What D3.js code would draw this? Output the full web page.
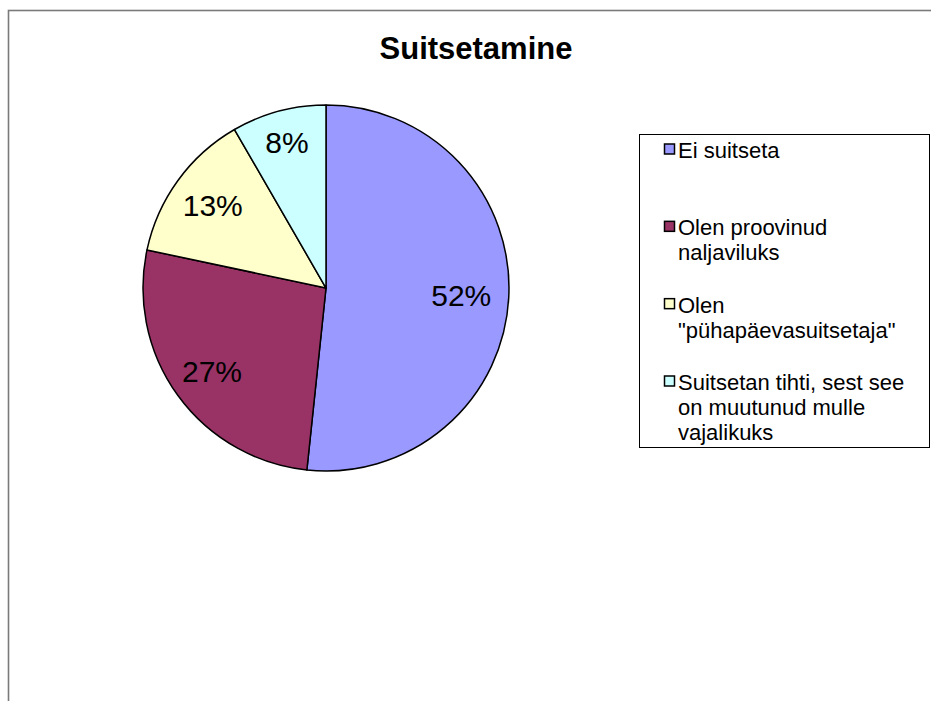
<!DOCTYPE html>
<html>
<head>
<meta charset="utf-8">
<script src="https://cdn.jsdelivr.net/npm/d3@7"></script>
<style>
  body { margin: 0; background: #fff; }
  svg { display: block; font-family: Arial, "Liberation Sans", sans-serif; }
</style>
</head>
<body>
<svg id="canvas" width="931" height="701"></svg>
<script>
// data (answer counts, shown as percentages)
var categories = [
  ["Ei suitseta"],
  ["Olen proovinud", "naljaviluks"],
  ["Olen", "\"pühapäevasuitsetaja\""],
  ["Suitsetan tihti, sest see", "on muutunud mulle", "vajalikuks"]
];
var counts = [31, 16, 8, 5];
var colors = ["#9999FF", "#993366", "#FFFFCC", "#CCFFFF"];
var chartTitle = "Suitsetamine";

// where each % label sits, as a share of the radius
var labelRadius = [0.74, 0.77, 0.765, 0.825];

var svg = d3.select("#canvas");

// outer chart frame (right and bottom edges fall outside the window)
svg.append("rect")
  .attr("x", 8.5).attr("y", 10.5)
  .attr("width", 1000).attr("height", 1000)
  .attr("fill", "none")
  .attr("stroke", "#7a7a7a")
  .attr("stroke-width", 1.6);

svg.append("text")
  .attr("x", 476).attr("y", 59)
  .attr("text-anchor", "middle")
  .attr("font-size", "31px")
  .attr("font-weight", "bold")
  .text(chartTitle);

// ##### pie #####
var cx = 326, cy = 288, r = 183;
var total = d3.sum(counts);

var pie = d3.pie().sort(null).value(function(d) { return d; });
var arcs = pie(counts);
var arc = d3.arc().innerRadius(0).outerRadius(r);

var g = svg.append("g").attr("transform", "translate(" + cx + "," + cy + ")");

g.selectAll("path")
  .data(arcs)
  .enter()
  .append("path")
  .attr("d", arc)
  .attr("fill", function(d, i) { return colors[i]; })
  .attr("stroke", "#000")
  .attr("stroke-width", 1.5)
  .attr("stroke-linejoin", "round");

g.selectAll("text.pct")
  .data(arcs)
  .enter()
  .append("text")
  .attr("class", "pct")
  .attr("transform", function(d, i) {
      var lr = r * labelRadius[i];
      var c = d3.arc().innerRadius(lr).outerRadius(lr).centroid(d);
      return "translate(" + c[0] + "," + (c[1] + 10.7) + ")";
  })
  .attr("text-anchor", "middle")
  .attr("font-size", "30px")
  .text(function(d) { return Math.round(d.value / total * 100) + "%"; });

// ##### legend #####
var legX = 639.5, legY = 134.5, legW = 290, legH = 313;
svg.append("rect")
  .attr("x", legX).attr("y", legY)
  .attr("width", legW).attr("height", legH)
  .attr("fill", "#fff")
  .attr("stroke", "#000")
  .attr("stroke-width", 1);

// first-line baselines of the items
var itemY = d3.scalePoint().domain(d3.range(categories.length)).range([158, 390]);
var lineH = 25;

var item = svg.append("g").selectAll("g")
  .data(categories)
  .enter()
  .append("g")
  .attr("transform", function(d, i) { return "translate(0," + itemY(i) + ")"; });

item.append("rect")
  .attr("x", 664.5).attr("y", -14)
  .attr("width", 10).attr("height", 10)
  .attr("fill", function(d, i) { return colors[i]; })
  .attr("stroke", "#000")
  .attr("stroke-width", 1.5);

item.append("text")
  .attr("x", 678)
  .attr("font-size", "22px")
  .selectAll("tspan")
  .data(function(d) { return d; })
  .enter()
  .append("tspan")
  .attr("x", 678)
  .attr("y", function(d, j) { return j * lineH; })
  .text(function(d) { return d; });
</script>
</body>
</html>
